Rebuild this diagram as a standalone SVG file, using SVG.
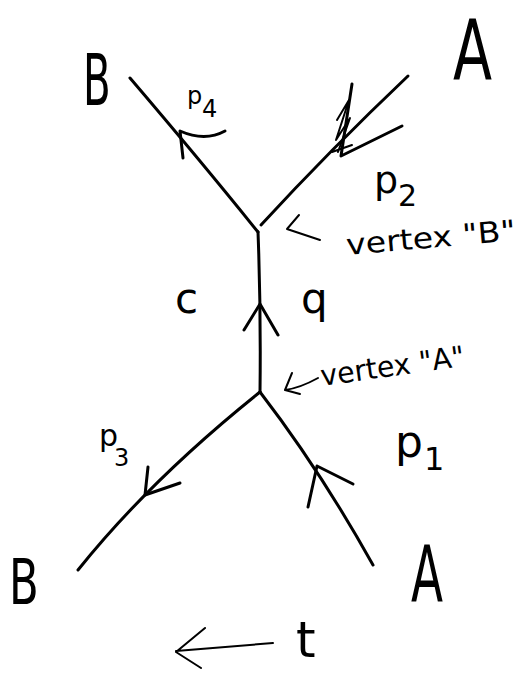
<svg xmlns="http://www.w3.org/2000/svg" width="523" height="677" viewBox="0 0 523 677">
<style>
  .ln { fill: none; stroke: #000; stroke-width: 3; stroke-linecap: round; stroke-linejoin: round; }
  .thin { fill: none; stroke: #000; stroke-width: 2; stroke-linecap: round; stroke-linejoin: round; }
  .lbl { font-family: "DejaVu Sans", "Liberation Sans", sans-serif; fill: #000; }
</style>
<rect width="523" height="677" fill="#fff"/>

<g id="connectors">
  <!-- B out (p4) -->
  <path class="ln" d="M130,78 Q200,160 258,232"/>
  <!-- A in (p2) -->
  <path class="ln" d="M408,76 Q330,150 261,225"/>
  <!-- internal c (q) -->
  <path class="ln" d="M258,232 Q261,310 260,392"/>
  <!-- B out (p3) -->
  <path class="ln" d="M260,392 Q150,480 78,570"/>
  <!-- A in (p1) -->
  <path class="ln" d="M260,392 Q320,470 373,565"/>
  <!-- arrowheads -->
  <path class="ln" d="M183,158 L180,131 Q205,142 225,131"/>
  <path class="ln" d="M352,84 L341,156 L402,126"/>
  <path class="thin" d="M337,120 L349,100 L336,140 L350,118 L338,152 M332,152 L352,145"/>
  <path class="ln" d="M244,330 L260,304 L278,335"/>
  <path class="ln" d="M148,467 L145,495 L180,483"/>
  <path class="ln" d="M308,507 L317,466 L353,484"/>
  <!-- time arrow -->
  <path class="thin" d="M273,643 L176,651 M205,628 L176,652 L201,668"/>
</g>

<g id="vertex-B">
  <path class="thin" d="M320,240 L287,229 L299,215"/>
  <text class="lbl" x="347" y="255" font-size="29" textLength="170" lengthAdjust="spacingAndGlyphs" transform="rotate(-5 347 255)">vertex "B"</text>
</g>

<g id="vertex-A">
  <path class="thin" d="M318,378 Q300,388 285,390 L292,373 M285,390 L300,394"/>
  <text class="lbl" x="322" y="386" font-size="29" textLength="145" lengthAdjust="spacingAndGlyphs" transform="rotate(-8 322 386)">vertex "A"</text>
</g>

<g id="label-B-top">
  <text class="lbl" x="0" y="0" font-size="72" transform="translate(83,105) scale(0.56,1)">B</text>
</g>
<g id="label-A-top">
  <text class="lbl" x="0" y="0" font-size="84" transform="translate(453,80) scale(0.68,1)">A</text>
</g>
<g id="label-p4">
  <text class="lbl" x="187" y="104" font-size="24">p</text>
  <text class="lbl" x="202" y="117" font-size="24">4</text>
</g>
<g id="label-p2">
  <text class="lbl" x="374" y="193" font-size="38">p</text>
  <text class="lbl" x="398" y="206" font-size="30">2</text>
</g>
<g id="label-c">
  <text class="lbl" x="175" y="313" font-size="42">c</text>
</g>
<g id="label-q">
  <text class="lbl" x="301" y="313" font-size="42">q</text>
</g>
<g id="label-p3">
  <text class="lbl" x="99" y="446" font-size="30">p</text>
  <text class="lbl" x="114" y="466" font-size="24">3</text>
</g>
<g id="label-p1">
  <text class="lbl" x="395" y="457" font-size="44">p</text>
  <text class="lbl" x="424" y="470" font-size="32">1</text>
</g>
<g id="label-B-bottom">
  <text class="lbl" x="0" y="0" font-size="62" transform="translate(9,604) scale(0.7,1)">B</text>
</g>
<g id="label-A-bottom">
  <text class="lbl" x="0" y="0" font-size="78" transform="translate(411,602) scale(0.6,1)">A</text>
</g>
<g id="label-t">
  <text class="lbl" x="296" y="657" font-size="50">t</text>
</g>
</svg>
